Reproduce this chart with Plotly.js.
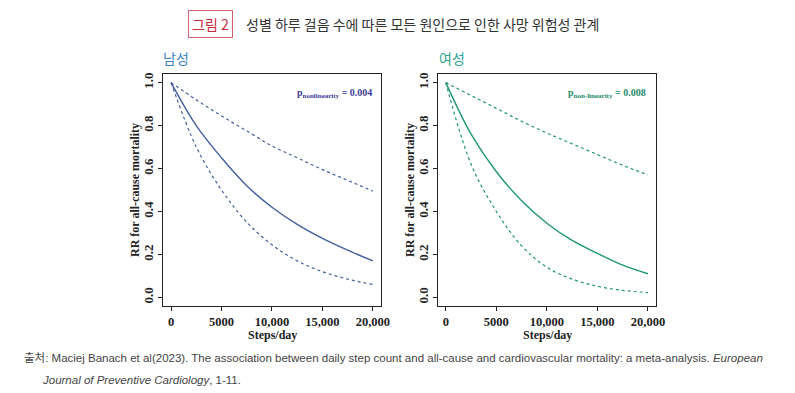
<!DOCTYPE html>
<html>
<head>
<meta charset="utf-8">
<script src="https://cdn.plot.ly/plotly-3.0.1.min.js"></script>
<style>html,body{margin:0;padding:0;background:#fff;}#chart{width:795px;height:393px;}</style>
</head>
<body>
<div id="chart"></div>
<script>
// Data
const steps = [0, 2500, 5000, 7500, 10000, 12500, 15000, 17500, 20000];
const menRR    = [1.0, 0.80, 0.65, 0.52, 0.42, 0.34, 0.275, 0.22, 0.17];
const menUpper = [1.0, 0.92, 0.845, 0.775, 0.705, 0.65, 0.595, 0.545, 0.495];
const menLower = [1.0, 0.70, 0.50, 0.35, 0.245, 0.17, 0.12, 0.085, 0.06];
const womenRR    = [1.0, 0.76, 0.585, 0.45, 0.345, 0.265, 0.205, 0.15, 0.11];
const womenUpper = [1.0, 0.94, 0.88, 0.82, 0.765, 0.715, 0.665, 0.615, 0.57];
const womenLower = [1.0, 0.62, 0.40, 0.24, 0.14, 0.085, 0.052, 0.033, 0.022];
const xTickVals = [0, 5000, 10000, 15000, 20000];
const xTickText = ['0', '5000', '10,000', '15,000', '20,000'];
const yTickVals = [0, 0.2, 0.4, 0.6, 0.8, 1.0];
const yTickText = ['0.0', '0.2', '0.4', '0.6', '0.8', '1.0'];

const menColor = '#41609f';
const womenColor = '#1f9676';

function tr(x, y, xa, ya, color, dash) {
  return {x: x, y: y, xaxis: xa, yaxis: ya, mode: 'lines', type: 'scatter',
    line: {color: color, width: dash ? 1.2 : 1.4, dash: dash ? '3px,3px' : 'solid', shape: 'spline', smoothing: 1},
    hoverinfo: 'skip', showlegend: false};
}

const data = [
  tr(steps, menUpper, 'x', 'y', menColor, true),
  tr(steps, menLower, 'x', 'y', menColor, true),
  tr(steps, menRR, 'x', 'y', menColor, false),
  tr(steps, womenUpper, 'x2', 'y2', womenColor, true),
  tr(steps, womenLower, 'x2', 'y2', womenColor, true),
  tr(steps, womenRR, 'x2', 'y2', womenColor, false)
];

const tickFont = {family: 'Liberation Serif', size: 12.5, color: '#222', weight: 'bold'};
function xax(dom, anchor) {
  return {domain: dom, anchor: anchor, range: [-800, 20800], tickmode: 'array', tickvals: xTickVals, ticktext: xTickText,
    showline: true, mirror: true, linecolor: '#222', linewidth: 1, ticks: 'outside', ticklen: 4, tickcolor: '#222',
    tickfont: tickFont, showgrid: false, zeroline: false, fixedrange: true};
}
function yax(anchor) {
  return {domain: [0.2214, 0.8117], anchor: anchor, range: [-0.04, 1.04], tickmode: 'array', tickvals: yTickVals, ticktext: yTickText,
    showline: true, mirror: true, linecolor: '#222', linewidth: 1, ticks: 'outside', ticklen: 4, tickcolor: '#222',
    tickangle: -90, tickfont: {family: 'Liberation Serif', size: 13, color: '#222', weight: 'bold'},
    showgrid: false, zeroline: false, fixedrange: true};
}

const serifBold = {family: 'Liberation Serif', size: 12, color: '#222', weight: 'bold'};
const footFont = {family: 'Liberation Sans, Noto Sans CJK KR', size: 11.5, color: '#444'};

const layout = {
  width: 795, height: 393,
  margin: {l: 0, r: 0, t: 0, b: 0},
  paper_bgcolor: '#fff', plot_bgcolor: '#fff',
  xaxis: xax([0.2050, 0.4792], 'y'),
  yaxis: yax('x'),
  xaxis2: xax([0.5506, 0.8252], 'y2'),
  yaxis2: yax('x2'),
  annotations: [
    {xref: 'paper', yref: 'paper', x: 188/795, y: 1 - 24/393, xanchor: 'left', yanchor: 'middle', showarrow: false,
     text: '그림 2', font: {family: 'Noto Sans CJK KR', size: 14, color: '#c8283c'},
     bordercolor: '#d86070', borderwidth: 1, borderpad: 3, bgcolor: '#fff'},
    {xref: 'paper', yref: 'paper', x: 244/795, y: 1 - 24/393, xanchor: 'left', yanchor: 'middle', showarrow: false,
     text: '성별 하루 걸음 수에 따른 모든 원인으로 인한 사망 위험성 관계', font: {family: 'Noto Sans CJK KR', size: 14, color: '#333'}},
    {xref: 'paper', yref: 'paper', x: 161/795, y: 1 - 58/393, xanchor: 'left', yanchor: 'middle', showarrow: false,
     text: '남성', font: {family: 'Noto Sans CJK KR', size: 14, color: '#3a85c8'}},
    {xref: 'paper', yref: 'paper', x: 437/795, y: 1 - 58/393, xanchor: 'left', yanchor: 'middle', showarrow: false,
     text: '여성', font: {family: 'Noto Sans CJK KR', size: 14, color: '#2aa58f'}},
    {xref: 'paper', yref: 'paper', x: 374/795, y: 1 - 93/393, xanchor: 'right', yanchor: 'middle', showarrow: false,
     text: 'p<sub>nonlinearity</sub> = 0.004', font: {family: 'Liberation Serif', size: 10, color: '#3d3d99', weight: 'bold'}},
    {xref: 'paper', yref: 'paper', x: 648/795, y: 1 - 93/393, xanchor: 'right', yanchor: 'middle', showarrow: false,
     text: 'p<sub>non-linearity</sub> = 0.008', font: {family: 'Liberation Serif', size: 10, color: '#1e8c6e', weight: 'bold'}},
    {xref: 'paper', yref: 'paper', x: 135/795, y: 1 - 190/393, xanchor: 'center', yanchor: 'middle', showarrow: false, textangle: -90,
     text: 'RR for all-cause mortality', font: serifBold},
    {xref: 'paper', yref: 'paper', x: 410/795, y: 1 - 190/393, xanchor: 'center', yanchor: 'middle', showarrow: false, textangle: -90,
     text: 'RR for all-cause mortality', font: serifBold},
    {xref: 'paper', yref: 'paper', x: 272/795, y: 1 - 335/393, xanchor: 'center', yanchor: 'middle', showarrow: false,
     text: 'Steps/day', font: serifBold},
    {xref: 'paper', yref: 'paper', x: 547/795, y: 1 - 335/393, xanchor: 'center', yanchor: 'middle', showarrow: false,
     text: 'Steps/day', font: serifBold},
    {xref: 'paper', yref: 'paper', x: 22/795, y: 1 - 358/393, xanchor: 'left', yanchor: 'middle', showarrow: false,
     text: '출처: Maciej Banach et al(2023). The association between daily step count and all-cause and cardiovascular mortality: a meta-analysis. <i>European</i>',
     font: footFont},
    {xref: 'paper', yref: 'paper', x: 40/795, y: 1 - 380/393, xanchor: 'left', yanchor: 'middle', showarrow: false,
     text: '<i>Journal of Preventive Cardiology</i>, 1-11.', font: footFont}
  ]
};

Plotly.newPlot('chart', data, layout, {displayModeBar: false, staticPlot: true});
</script>
</body>
</html>
